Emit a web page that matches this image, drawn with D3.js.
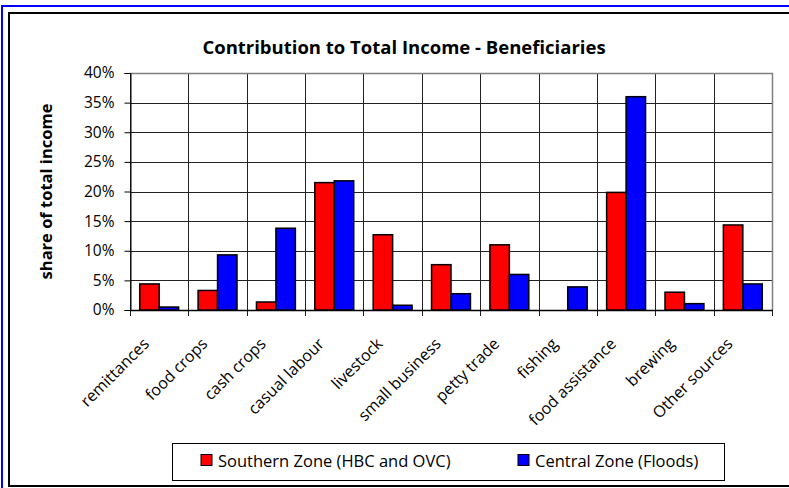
<!DOCTYPE html>
<html>
<head>
<meta charset="utf-8">
<script src="https://cdn.jsdelivr.net/npm/d3@7"></script>
<style>
  body { margin: 0; background: #fff; }
  svg text { font-family: "Open Sans", Lato, sans-serif; fill: #000; }
</style>
</head>
<body>
<div id="chart"></div>
<script>
const categories = ["remittances", "food crops", "cash crops", "casual labour", "livestock",
  "small business", "petty trade", "fishing", "food assistance", "brewing", "Other sources"];
const southern = [4.4, 3.3, 1.35, 21.5, 12.7, 7.65, 11.0, 0, 19.85, 3.0, 14.35];
const central = [0.5, 9.3, 13.8, 21.8, 0.8, 2.75, 6.0, 3.9, 36.0, 1.07, 4.4];
const seriesNames = ["Southern Zone (HBC and OVC)", "Central Zone (Floods)"];
const seriesColors = ["#ff0000", "#0000ff"];
const yTicks = [0, 5, 10, 15, 20, 25, 30, 35, 40];

const W = 789, H = 488;
const plot = { left: 130, right: 772, top: 73, bottom: 310 };

const svg = d3.select("#chart").append("svg")
  .attr("width", W).attr("height", H);

// outer frames (blue then black), right and bottom cut off by the picture edge
svg.append("rect").attr("x", 2).attr("y", 6).attr("width", W + 10).attr("height", H + 10)
  .attr("fill", "none").attr("stroke", "#0000ff").attr("stroke-width", 2);
svg.append("rect").attr("x", 9).attr("y", 13).attr("width", W + 10).attr("height", 473)
  .attr("fill", "none").attr("stroke", "#000").attr("stroke-width", 2);

const x = d3.scaleBand().domain(categories).range([plot.left, plot.right]);
const y = d3.scaleLinear().domain([0, 40]).range([plot.bottom, plot.top]);
const inner = d3.scaleBand().domain([0, 1]).range([0, x.bandwidth()]).paddingOuter(0.5).paddingInner(0);

// horizontal gridlines
svg.append("g").selectAll("line").data(yTicks).join("line")
  .attr("x1", plot.left).attr("x2", plot.right)
  .attr("y1", d => Math.round(y(d)) + 0.5).attr("y2", d => Math.round(y(d)) + 0.5)
  .attr("stroke", "#222").attr("stroke-width", 1);

// vertical gridlines at category boundaries
const bounds = categories.map(c => x(c)).concat([plot.right]);
svg.append("g").selectAll("line").data(bounds).join("line")
  .attr("x1", d => Math.round(d) + 0.5).attr("x2", d => Math.round(d) + 0.5)
  .attr("y1", plot.top).attr("y2", plot.bottom + 6)
  .attr("stroke", "#222").attr("stroke-width", 1);

// plot area frame (grey top/right)
svg.append("path")
  .attr("d", `M${plot.left},${plot.top + 0.5}H${plot.right + 0.5}V${plot.bottom}`)
  .attr("fill", "none").attr("stroke", "#808080").attr("stroke-width", 1.5);

// y axis
const yAxis = svg.append("g")
  .attr("transform", `translate(${plot.left + 0.5},0)`)
  .call(d3.axisLeft(y).tickValues(yTicks).tickSize(6).tickPadding(10).tickFormat(d => d + "%"));
yAxis.select(".domain").attr("stroke", "#000");
yAxis.selectAll(".tick line").attr("stroke", "#000");
yAxis.selectAll("text").attr("font-size", 15.5).style("font-family", "'Open Sans', sans-serif");

// x axis baseline
svg.append("line")
  .attr("x1", plot.left).attr("x2", plot.right + 1)
  .attr("y1", plot.bottom + 0.5).attr("y2", plot.bottom + 0.5)
  .attr("stroke", "#000").attr("stroke-width", 1.5);

// bars
const rows = categories.map((c, i) => ({ c, vals: [southern[i], central[i]] }));
const groups = svg.append("g").selectAll("g").data(rows).join("g")
  .attr("transform", d => `translate(${x(d.c)},0)`);
groups.selectAll("rect").data(d => d.vals.map((v, k) => ({ v, k })).filter(e => e.v > 0)).join("rect")
  .attr("x", e => inner(e.k))
  .attr("width", inner.bandwidth())
  .attr("y", e => y(e.v))
  .attr("height", e => y(0) - y(e.v))
  .attr("fill", e => seriesColors[e.k])
  .attr("stroke", "#000").attr("stroke-width", 1.5);

// x labels rotated
svg.append("g").selectAll("text").data(categories).join("text")
  .attr("transform", d => `translate(${x(d) + x.bandwidth() / 2 - 17},337) rotate(-45)`)
  .attr("text-anchor", "end")
  .attr("dy", "0.7em")
  .attr("font-size", 16)
  .text(d => d);

// title
svg.append("text")
  .attr("x", 404).attr("y", 54)
  .attr("text-anchor", "middle")
  .attr("font-size", 18.5).attr("font-weight", "bold")
  .text("Contribution to Total Income - Beneficiaries");

// y axis title
svg.append("text")
  .attr("transform", `translate(52,${(plot.top + plot.bottom) / 2}) rotate(-90)`)
  .attr("text-anchor", "middle")
  .attr("font-size", 16.5).attr("font-weight", "bold")
  .text("share of total income");

// legend
const legend = svg.append("g");
legend.append("rect").attr("x", 172.5).attr("y", 443.5).attr("width", 552).attr("height", 37)
  .attr("fill", "#fff").attr("stroke", "#000").attr("stroke-width", 1);
const legendX = [201, 518];
seriesNames.forEach((name, k) => {
  legend.append("rect").attr("x", legendX[k]).attr("y", 454.5).attr("width", 11).attr("height", 11)
    .attr("fill", seriesColors[k]).attr("stroke", "#000").attr("stroke-width", 1);
  legend.append("text").attr("x", legendX[k] + 17).attr("y", 466.5)
    .attr("font-size", 16.5).text(name);
});
</script>
</body>
</html>
